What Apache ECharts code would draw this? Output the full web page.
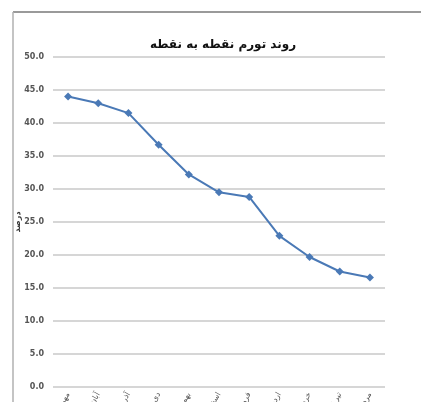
<!DOCTYPE html>
<html>
<head>
<meta charset="utf-8">
<script src="https://cdn.jsdelivr.net/npm/echarts@6/dist/echarts.min.js"></script>
<style>
  html, body { margin: 0; padding: 0; background: #ffffff; }
  #chart { width: 421px; height: 402px; }
</style>
</head>
<body>
<div id="chart"></div>
<script>
// Point-to-point inflation trend (percent)
const titleText = 'روند تورم نقطه به نقطه';
const axisName = 'درصد';
const categories = ['مهر ۹۲', 'آبان ۹۲', 'آذر ۹۲', 'دی ۹۲', 'بهمن ۹۲', 'اسفند ۹۲', 'فروردین ۹۳', 'اردیبهشت ۹۳', 'خرداد ۹۳', 'تیر ۹۳', 'مرداد ۹۳'];
const inflation = [44.0, 43.0, 41.5, 36.7, 32.2, 29.5, 28.8, 22.9, 19.7, 17.5, 16.6];

const chart = echarts.init(document.getElementById('chart'), null, { renderer: 'canvas' });

chart.setOption({
  animation: false,
  backgroundColor: '#ffffff',
  title: {
    text: titleText,
    left: 218,
    top: 34,
    textAlign: 'center',
    textStyle: { fontFamily: 'DejaVu Sans', fontSize: 12, fontWeight: 'bold', color: '#111111' }
  },
  graphic: [
    { type: 'line', shape: { x1: 13, y1: 12, x2: 421, y2: 12 }, style: { stroke: '#9a9a9a', lineWidth: 2 } },
    { type: 'line', shape: { x1: 13, y1: 12, x2: 13, y2: 402 }, style: { stroke: '#b0b0b0', lineWidth: 1.5 } }
  ],
  grid: { left: 53, right: 36, top: 57, bottom: 15, containLabel: false, outerBoundsMode: 'none' },
  xAxis: {
    type: 'category',
    data: categories,
    boundaryGap: true,
    axisLine: { show: false },
    axisTick: { show: false },
    axisLabel: {
      interval: 0,
      rotate: 60,
      margin: 6,
      fontSize: 8,
      fontFamily: 'DejaVu Sans',
      color: '#555555'
    }
  },
  yAxis: {
    type: 'value',
    min: 0,
    max: 50,
    interval: 5,
    name: axisName,
    nameLocation: 'middle',
    nameGap: 31,
    nameMoveOverlap: false,
    nameRotate: 90,
    nameTextStyle: { fontFamily: 'DejaVu Sans', fontSize: 8, fontWeight: 'bold', color: '#333333' },
    axisLine: { show: false },
    axisTick: { show: false },
    axisLabel: {
      formatter: v => v.toFixed(1),
      margin: 9,
      fontSize: 8,
      fontWeight: 'bold',
      fontFamily: 'DejaVu Sans',
      color: '#555555'
    },
    splitLine: { lineStyle: { color: '#d6d6d6', width: 2 } }
  },
  series: [{
    type: 'line',
    data: inflation,
    symbol: 'diamond',
    symbolSize: 8,
    lineStyle: { color: '#4a79b6', width: 2 },
    itemStyle: { color: '#4a79b6' }
  }]
});
</script>
</body>
</html>
